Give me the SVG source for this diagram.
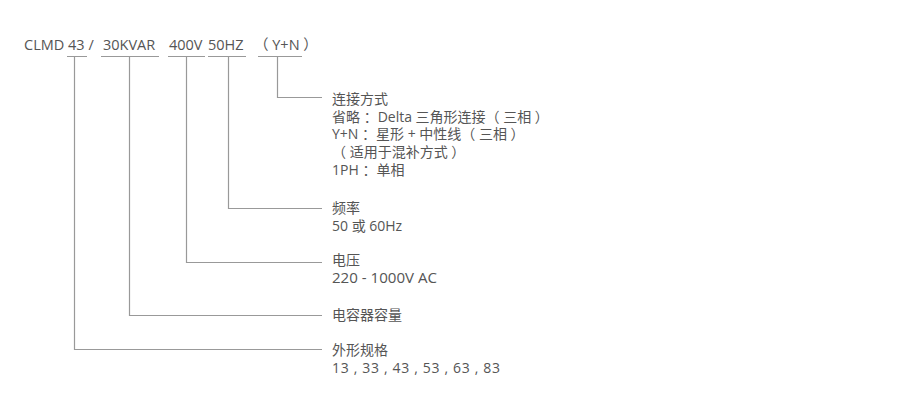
<svg xmlns="http://www.w3.org/2000/svg" width="900" height="413" viewBox="0 0 900 413">
<style>
text{font-family:"Open Sans","Noto Sans CJK SC",sans-serif;font-size:14px;fill:#555}
.h{font-size:14.5px}
.ln{stroke:#999;stroke-width:1.2;fill:none}
</style>
<rect width="900" height="413" fill="#fff"/>
<g id="header">
<text class="h" x="24" y="50">CLMD 43 / <tspan x="103">30KVAR</tspan><tspan x="169">400V</tspan><tspan x="208">50HZ</tspan><tspan x="254">（ Y+N ）</tspan></text>
</g>
<g id="connectors" class="ln">
<path d="M67 56.5H87M101 56.5H159M168 56.5H205M208 56.5H246M258 56.5H302"/>
<path d="M74.5 57V349.5H322"/>
<path d="M129.5 57V315.5H322"/>
<path d="M186.5 57V262.5H322"/>
<path d="M228.5 57V208.5H322"/>
<path d="M277.5 57V97.5H322"/>
</g>
<g id="node-conn">
<text x="332" y="104">连接方式</text>
<text x="332" y="122">省略 ：Delta 三角形连接（ 三相 ）</text>
<text x="332" y="139">Y+N ：星形 + 中性线（ 三相 ）</text>
<text x="332" y="157">（ 适用于混补方式 ）</text>
<text x="332" y="175">1PH ：单相</text>
</g>
<g id="node-freq">
<text x="332" y="213">频率</text>
<text x="332" y="231">50 或 60Hz</text>
</g>
<g id="node-volt">
<text x="332" y="265">电压</text>
<text x="332" y="283" textLength="105" lengthAdjust="spacingAndGlyphs">220 - 1000V AC</text>
</g>
<g id="node-cap">
<text x="332" y="320">电容器容量</text>
</g>
<g id="node-size">
<text x="332" y="355">外形规格</text>
<text x="332" y="373" textLength="168" lengthAdjust="spacing">13 , 33 , 43 , 53 , 63 , 83</text>
</g>
</svg>
